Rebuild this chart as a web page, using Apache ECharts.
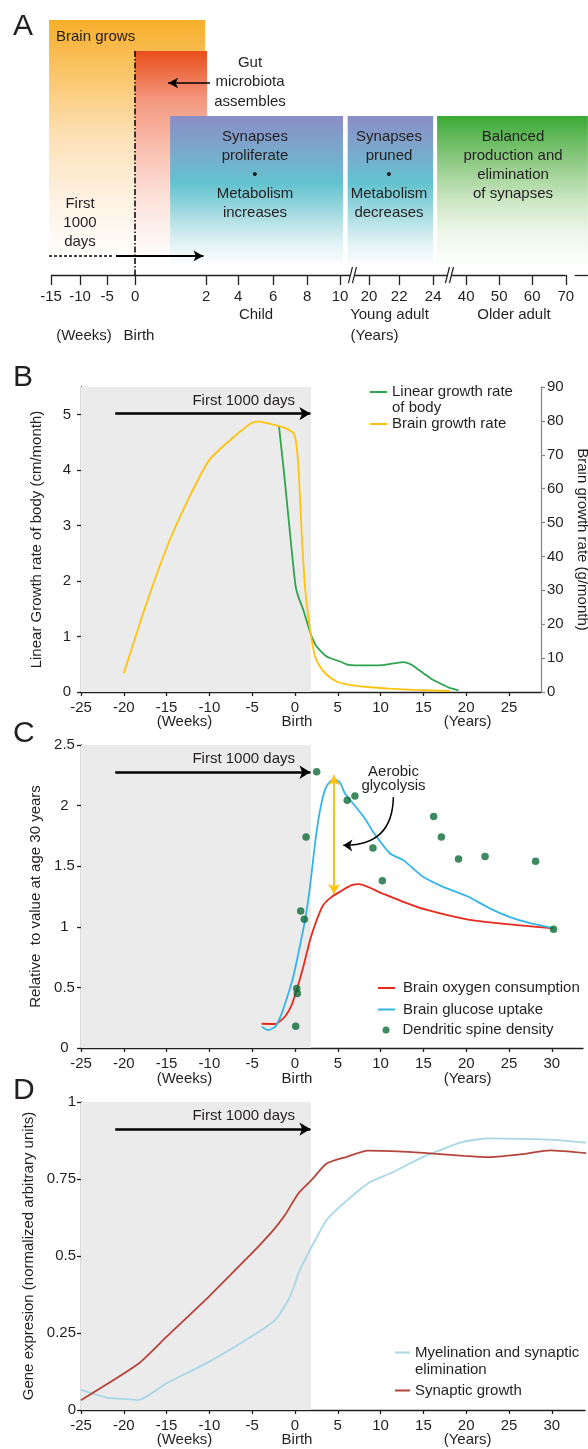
<!DOCTYPE html>
<html><head><meta charset="utf-8">
<script src="https://cdn.jsdelivr.net/npm/echarts@6/dist/echarts.min.js"></script>
<style>html,body{margin:0;padding:0;background:#fff}#c{width:588px;height:1449px}</style>
</head><body><div id="c"></div>
<script>
// ---------------- DATA ----------------
// Panel A (schematic timeline, axis in "slot" units)
const aTickLabels = ['-15','-10','-5','0','2','4','6','8','10','20','22','24','40','50','60','70'];
const aTickPos = [0,0.88,1.7,2.55,4.7,5.67,6.73,7.76,8.76,9.64,10.55,11.58,12.58,13.58,14.58,15.6];
const aAxisSegments = [[0,15.6],[15.87,16.27]];
const aBreakPos = [9.15,12.09];
const aBoxStart = [-0.06,2.55,3.61,8.99,11.7];
const aBoxEnd = [4.67,4.73,8.85,11.58,16.27];
const aBoxTop = [1.0,0.878,0.624,0.624,0.624];
const aBoxBottom = [0.06,0.06,0.035,0.035,0.035];
const aBirthLine = [[2.55,0.878],[2.55,0]];
const aGutArrow = [[4.82,0.753],[3.55,0.753]];
const aFirstDashed = [[-0.06,0.075],[1.85,0.075]];
const aFirstArrow = [[1.97,0.075],[4.62,0.075]];

// Shared
const ticks25 = [-25,-20,-15,-10,-5,0,5,10,15,20,25];
const ticks30 = [-25,-20,-15,-10,-5,0,5,10,15,20,25,30];
const grayEnd = 1.87;
const first1000Span = [-21,1.8];

// Panel B
const bodyGrowth = [[-1.87,4.79],[-1.36,4.07],[-0.97,3.47],[-0.58,2.86],[-0.19,2.26],[0.08,1.9],[0.39,1.72],[0.97,1.48],[1.56,1.18],[1.95,1.0],[2.53,0.82],[3.7,0.64],[5.26,0.55],[6.23,0.49],[8.76,0.48],[10.5,0.49],[12.6,0.54],[13.5,0.5],[15,0.34],[16,0.23],[16.9,0.16],[18,0.08],[19.1,0.03]];
const brainGrowth = [[-20,5.5],[-17.5,25],[-15,42.5],[-12.5,56.7],[-10,68.5],[-7.5,74.5],[-5,79.5],[-4.1,79.8],[-3,79.2],[-1.75,78.4],[-0.8,77.5],[-0.2,76.4],[0.1,74],[0.4,66.6],[0.78,47],[1.17,31],[1.56,22.2],[1.95,15.4],[2.34,10.5],[2.92,7.5],[3.7,5.1],[4.87,3.1],[6.4,2.1],[8.76,1.4],[11.1,1.0],[14,0.6],[18.1,0.3]];
const bArrowY = 5.02;

// Panel C
const oxygen = [[-3.9,0.2],[-2.3,0.198],[-1.17,0.26],[-0.39,0.355],[0.2,0.48],[0.97,0.67],[1.75,0.89],[2.53,1.055],[3.3,1.18],[4.28,1.247],[5.26,1.29],[6.6,1.344],[7.5,1.352],[10.2,1.275],[12.65,1.206],[15.2,1.143],[20.2,1.06],[25.1,1.02],[30.2,0.987]];
const glucose = [[-3.9,0.176],[-3.1,0.148],[-2.3,0.176],[-1.55,0.286],[-0.78,0.45],[-0.2,0.59],[0.39,0.78],[1.17,1.055],[1.75,1.33],[2.34,1.69],[2.92,1.96],[3.5,2.13],[4.1,2.2],[4.67,2.215],[5.26,2.19],[5.84,2.1],[7.1,1.99],[8.2,1.89],[9.15,1.78],[11.1,1.605],[12.65,1.55],[15,1.41],[17.3,1.33],[20.2,1.25],[22.8,1.15],[25.1,1.08],[27.45,1.03],[30.2,0.99]];
const spines = [[2.53,2.28],[6.1,2.045],[7.0,2.08],[1.29,1.74],[9.1,1.65],[10.2,1.38],[16.2,1.91],[17.1,1.74],[19.1,1.56],[22.2,1.58],[28.1,1.54],[30.2,0.98],[0.66,1.13],[1.09,1.063],[0.2,0.49],[0.27,0.45],[0.08,0.18]];
const cArrowY = 2.275;
const glycolysisGap = [[4.55,2.25],[4.55,1.27]];
const aerobicArrow = [[11.49,2.07],[5.64,1.673]];

// Panel D
const myelination = [[-25,0.065],[-22,0.04],[-20,0.036],[-18.3,0.032],[-15,0.087],[-10,0.157],[-5,0.24],[-2.34,0.292],[-0.78,0.357],[0,0.41],[0.39,0.444],[1.95,0.53],[3.7,0.617],[5.65,0.67],[8.76,0.74],[11.1,0.768],[15,0.822],[19.7,0.871],[22.8,0.882],[30.2,0.877],[34,0.868]];
const synapticGrowth = [[-25,0.032],[-18.3,0.15],[-15,0.238],[-10,0.37],[-5,0.51],[-4.1,0.536],[-2.53,0.584],[-1.17,0.633],[0.39,0.703],[1.95,0.747],[3.7,0.8],[6.04,0.822],[8.5,0.842],[12,0.84],[15,0.835],[19.7,0.825],[22.8,0.821],[26.7,0.831],[29.8,0.843],[34,0.834]];
const dArrowY = 0.912;

// ---------------- STYLE ----------------
const FONT = "'Liberation Sans', Arial, Helvetica, sans-serif";
const INK = '#231f20';
const FS = 15;
const boxGradients = [
  [{offset:0,color:'#F7AE2A'},{offset:0.25,color:'#FAC872'},{offset:0.5,color:'#FDE2BA'},{offset:0.75,color:'#FEF2E2'},{offset:1,color:'#FFFFFF'}],
  [{offset:0,color:'#E84E1B'},{offset:0.23,color:'#F4977E'},{offset:0.47,color:'#F9C0B0'},{offset:0.71,color:'#FCE2DA'},{offset:1,color:'#FFFFFF'}],
  [{offset:0,color:'#8A8EC6'},{offset:0.23,color:'#7BA8CC'},{offset:0.45,color:'#63C3CF'},{offset:0.66,color:'#A8DCE2'},{offset:0.83,color:'#DDF1F4'},{offset:1,color:'#FFFFFF'}],
  [{offset:0,color:'#8A8EC6'},{offset:0.23,color:'#7BA8CC'},{offset:0.45,color:'#63C3CF'},{offset:0.66,color:'#A8DCE2'},{offset:0.83,color:'#DDF1F4'},{offset:1,color:'#FFFFFF'}],
  [{offset:0,color:'#3AAA35'},{offset:0.23,color:'#7CC272'},{offset:0.4,color:'#A6D59C'},{offset:0.56,color:'#CBE6C3'},{offset:0.76,color:'#EAF5E7'},{offset:1,color:'#FFFFFF'}]
];
const txt = {fontFamily:FONT, fontSize:FS, color:INK};
const SMOOTH = 0.2;

function xAxisFor(grid, max, ticks){
  return {type:'value', gridIndex:grid, min:-25, max:max, interval:5,
    axisLine:{show:true, onZero:false, lineStyle:{color:INK, width:1.3}},
    axisTick:{show:true, length:4, customValues:ticks, lineStyle:{color:INK, width:1.3}},
    axisLabel:Object.assign({customValues:ticks, margin:8.5}, txt),
    splitLine:{show:false}};
}
function dummy(xi, yi, extra){
  return Object.assign({type:'line', xAxisIndex:xi, yAxisIndex:yi, data:[[-25,0]], symbol:'none',
    lineStyle:{opacity:0}, silent:true, z:1, clip:false, animation:false}, extra);
}
function seg(p0, p1, style, s0, s1){
  return [{coord:p0, symbol:s0||'none', lineStyle:style}, {coord:p1, symbol:s1||'none'}];
}
function T(x, y, text, extra){
  return {type:'text', x:x, y:y, silent:true, z:100,
    style:Object.assign({text:text, fontFamily:FONT, fontSize:FS, fill:INK, align:'center', verticalAlign:'middle'}, extra||{})};
}
function lineLegend(left, top, names, opts){
  return Object.assign({orient:'vertical', left:left, top:top, padding:0, itemWidth:17, itemHeight:2,
    icon:'rect', selectedMode:false, textStyle:Object.assign({lineHeight:16}, txt), data:names}, opts||{});
}

const chart = echarts.init(document.getElementById('c'), null, {width:588, height:1449});

const option = {
  animation:false,
  backgroundColor:'#fff',
  grid:[
    {left:47.7, top:20, width:540.2, height:255, outerBoundsMode:'none'},
    {left:81, top:387, width:460, height:305, outerBoundsMode:'none'},
    {left:81, top:745, width:502, height:303, outerBoundsMode:'none'},
    {left:81, top:1102, width:504, height:308, outerBoundsMode:'none'}
  ],
  xAxis:[
    {type:'value', gridIndex:0, min:-0.1, max:16.27,
      axisLine:{show:false},
      axisTick:{show:true, length:10, customValues:aTickPos, lineStyle:{color:INK, width:1.3}},
      axisLabel:Object.assign({customValues:aTickPos, margin:14,
        formatter:function(v){ let k=0,b=1e9; aTickPos.forEach((p,i)=>{const d=Math.abs(p-v); if(d<b){b=d;k=i;}}); return aTickLabels[k]; }}, txt),
      splitLine:{show:false}},
    xAxisFor(1, 28.74, ticks25),
    xAxisFor(2, 33.64, ticks30),
    xAxisFor(3, 33.88, ticks30)
  ],
  yAxis:[
    {type:'value', gridIndex:0, min:0, max:1, show:false},
    {type:'value', gridIndex:1, min:0, max:5.5,
      name:'Linear Growth rate of body (cm/month)', nameLocation:'middle', nameRotate:90, nameGap:37, nameTextStyle:txt,
      axisLine:{show:true, onZero:false, lineStyle:{color:INK, width:1.3}},
      axisTick:{show:true, length:4, customValues:[0,1,2,3,4,5], lineStyle:{color:INK, width:1.3}},
      axisLabel:Object.assign({customValues:[0,1,2,3,4,5], margin:10}, txt),
      splitLine:{show:false}},
    {type:'value', gridIndex:1, min:0, max:90, interval:10, position:'right',
      name:'Brain growth rate (g/month)', nameLocation:'middle', nameRotate:-90, nameGap:32, nameTextStyle:txt,
      axisLine:{show:true, onZero:false, lineStyle:{color:'#8a8a8a', width:1.3}},
      axisTick:{show:true, length:4, lineStyle:{color:'#8a8a8a', width:1.3}},
      axisLabel:Object.assign({margin:6}, txt),
      splitLine:{show:false}},
    {type:'value', gridIndex:2, min:0, max:2.5, interval:0.5,
      name:'Relative  to value at age 30 years', nameLocation:'middle', nameRotate:90, nameGap:38, nameTextStyle:txt,
      axisLine:{show:true, onZero:false, lineStyle:{color:INK, width:1.3}},
      axisTick:{show:true, length:4, lineStyle:{color:INK, width:1.3}},
      axisLabel:Object.assign({margin:16.5, align:'center'}, txt),
      splitLine:{show:false}},
    {type:'value', gridIndex:3, min:0, max:1, interval:0.25,
      name:'Gene expresion (normalized arbitrary units)', nameLocation:'middle', nameRotate:90, nameGap:38, nameTextStyle:txt,
      axisLine:{show:true, onZero:false, lineStyle:{color:INK, width:1.3}},
      axisTick:{show:true, length:4, lineStyle:{color:INK, width:1.3}},
      axisLabel:Object.assign({margin:5}, txt),
      splitLine:{show:false}}
  ],
  legend:[
    lineLegend(370, 368, ['Linear growth rate\nof body'], {formatter:function(n){return '\n'+n;}}),
    lineLegend(370, 416, ['Brain growth rate']),
    lineLegend(378, 980, ['Brain oxygen consumption','Brain glucose uptake'], {itemGap:5.5,
      textStyle:Object.assign({lineHeight:16, padding:[0,0,0,3]}, txt)}),
    {orient:'vertical', left:382.5, top:1022, padding:0, itemWidth:17, itemHeight:7, icon:'circle', selectedMode:false,
      textStyle:Object.assign({lineHeight:16, padding:[0,0,0,3]}, txt), data:['Dendritic spine density']},
    lineLegend(395, 1327, ['Myelination and synaptic\nelimination'], {itemWidth:15,
      textStyle:Object.assign({lineHeight:17}, txt), formatter:function(n){return '\n'+n;}}),
    lineLegend(395, 1382.5, ['Synaptic growth'], {itemWidth:15})
  ],
  series:[
    // ---- Panel A boxes
    {type:'custom', xAxisIndex:0, yAxisIndex:0, silent:true, z:1,
      data:aBoxStart.map((s,i)=>[s, aBoxEnd[i], aBoxTop[i], aBoxBottom[i], i]),
      encode:{x:[0,1], y:[2,3]},
      renderItem:function(params, api){
        const p0 = api.coord([api.value(0), api.value(2)]);
        const p1 = api.coord([api.value(1), api.value(3)]);
        return {type:'rect', shape:{x:p0[0], y:p0[1], width:p1[0]-p0[0], height:p1[1]-p0[1]},
          style:{fill:new echarts.graphic.LinearGradient(0,0,0,1, boxGradients[api.value(4)])}};
      }},
    // ---- Panel A lines & arrows
    dummy(0, 0, {z:4, markLine:{silent:true, animation:false, symbolSize:[8,10], label:{show:false},
      lineStyle:{color:'#000', width:1.3, type:'solid'},
      data:[
        seg([aAxisSegments[0][0],0],[aAxisSegments[0][1],0],{color:INK,width:1.3,type:'solid'}),
        seg([aAxisSegments[1][0],0],[aAxisSegments[1][1],0],{color:INK,width:1.3,type:'solid'}),
        seg(aBirthLine[0], aBirthLine[1], {color:'#000',width:1.5,type:[6,2,1.5,2]}),
        seg(aGutArrow[0], aGutArrow[1], {color:'#000',width:1.6,type:'solid'}, 'none','arrow'),
        seg(aFirstDashed[0], aFirstDashed[1], {color:'#000',width:1.5,type:[3,2]}),
        seg(aFirstArrow[0], aFirstArrow[1], {color:'#000',width:1.8,type:'solid'}, 'none','arrow')
      ]}}),
    // ---- Panel A axis breaks
    {type:'custom', xAxisIndex:0, yAxisIndex:0, silent:true, z:5, clip:false,
      data:aBreakPos.map(p=>[p,0]),
      renderItem:function(params, api){
        const p = api.coord([api.value(0), api.value(1)]);
        const x=p[0], y=p[1];
        return {type:'group', children:[
          {type:'polygon', shape:{points:[[x-4,y+8],[x,y-8],[x+3.5,y-8],[x-0.5,y+8]]}, style:{fill:'#fff'}},
          {type:'line', shape:{x1:x-4.5,y1:y+8,x2:x-0.5,y2:y-8}, style:{stroke:INK,lineWidth:1.2}},
          {type:'line', shape:{x1:x-0.5,y1:y+8,x2:x+3.5,y2:y-8}, style:{stroke:INK,lineWidth:1.2}}
        ]};
      }},
    // ---- Panel B
    dummy(1, 1, {markArea:{silent:true, itemStyle:{color:'#EBEBEB'}, data:[[{xAxis:-25},{xAxis:grayEnd}]]},
      markLine:{silent:true, animation:false, symbol:['none','arrow'], symbolSize:[10,11], label:{show:false},
        lineStyle:{color:'#000', width:2.5, type:'solid'},
        data:[[{coord:[first1000Span[0],bArrowY]},{coord:[first1000Span[1],bArrowY]}]]}}),
    {name:'Linear growth rate\nof body', type:'line', xAxisIndex:1, yAxisIndex:1, data:bodyGrowth, symbol:'none',
      smooth:SMOOTH, z:3, lineStyle:{color:'#2DA44E', width:1.8}, itemStyle:{color:'#2DA44E'}},
    {name:'Brain growth rate', type:'line', xAxisIndex:1, yAxisIndex:2, data:brainGrowth, symbol:'none',
      smooth:SMOOTH, z:3, lineStyle:{color:'#FFC20E', width:1.8}, itemStyle:{color:'#FFC20E'}},
    // ---- Panel C
    dummy(2, 3, {markArea:{silent:true, itemStyle:{color:'#EBEBEB'}, data:[[{xAxis:-25},{xAxis:grayEnd}]]},
      markLine:{silent:true, animation:false, symbol:['none','arrow'], symbolSize:[10,11], label:{show:false},
        lineStyle:{color:'#000', width:2.5, type:'solid'},
        data:[[{coord:[first1000Span[0],cArrowY]},{coord:[first1000Span[1],cArrowY]}]]}}),
    {name:'Brain oxygen consumption', type:'line', xAxisIndex:2, yAxisIndex:3, data:oxygen, symbol:'none',
      smooth:SMOOTH, z:3, lineStyle:{color:'#E8291C', width:1.8}, itemStyle:{color:'#E8291C'}},
    {name:'Brain glucose uptake', type:'line', xAxisIndex:2, yAxisIndex:3, data:glucose, symbol:'none',
      smooth:SMOOTH, z:3, lineStyle:{color:'#35B4E8', width:1.8}, itemStyle:{color:'#35B4E8'}},
    {name:'Dendritic spine density', type:'scatter', xAxisIndex:2, yAxisIndex:3, data:spines, symbol:'circle',
      symbolSize:7.5, z:4, itemStyle:{color:'#0E6B37'}},
    dummy(2, 3, {z:5, markLine:{silent:true, animation:false, symbol:['arrow','arrow'], symbolSize:[9,10], label:{show:false},
      lineStyle:{color:'#FFC20E', width:2, type:'solid'}, itemStyle:{color:'#FFC20E'},
      data:[[{coord:glycolysisGap[0]},{coord:glycolysisGap[1]}]]}}),
    {type:'lines', coordinateSystem:'cartesian2d', xAxisIndex:2, yAxisIndex:3, silent:true, z:5,
      symbol:['none','arrow'], symbolSize:9,
      lineStyle:{color:'#000', width:1.5, curveness:0.5, opacity:1},
      data:[{coords:aerobicArrow}]},
    // ---- Panel D
    dummy(3, 4, {markArea:{silent:true, itemStyle:{color:'#EBEBEB'}, data:[[{xAxis:-25},{xAxis:grayEnd}]]},
      markLine:{silent:true, animation:false, symbol:['none','arrow'], symbolSize:[10,11], label:{show:false},
        lineStyle:{color:'#000', width:2.5, type:'solid'},
        data:[[{coord:[first1000Span[0],dArrowY]},{coord:[first1000Span[1],dArrowY]}]]}}),
    {name:'Myelination and synaptic\nelimination', type:'line', xAxisIndex:3, yAxisIndex:4, data:myelination, symbol:'none',
      smooth:SMOOTH, z:3, lineStyle:{color:'#A8D7E6', width:1.8}, itemStyle:{color:'#A8D7E6'}},
    {name:'Synaptic growth', type:'line', xAxisIndex:3, yAxisIndex:4, data:synapticGrowth, symbol:'none',
      smooth:SMOOTH, z:3, lineStyle:{color:'#B5453A', width:1.8}, itemStyle:{color:'#B5453A'}}
  ],
  graphic:{elements:[
    // panel letters
    T(13, 27, 'A', {fontSize:30, align:'left'}),
    T(13, 378, 'B', {fontSize:30, align:'left'}),
    T(13, 734, 'C', {fontSize:30, align:'left'}),
    T(13, 1091, 'D', {fontSize:30, align:'left'}),
    // panel A texts
    T(56, 37, 'Brain grows', {align:'left'}),
    T(250, 82, 'Gut\nmicrobiota\nassembles', {lineHeight:19.5}),
    T(255, 175, 'Synapses\nproliferate\n•\nMetabolism\nincreases', {lineHeight:19}),
    T(389, 175, 'Synapses\npruned\n•\nMetabolism\ndecreases', {lineHeight:19}),
    T(513, 165.5, 'Balanced\nproduction and\nelimination\nof synapses', {lineHeight:19}),
    T(80, 223, 'First\n1000\ndays', {lineHeight:19}),
    T(256, 315, 'Child'),
    T(389.5, 315, 'Young adult'),
    T(514, 315, 'Older adult'),
    T(84, 336, '(Weeks)'),
    T(139, 336, 'Birth'),
    T(374.5, 336, '(Years)'),
    // panel B
    T(295, 401, 'First 1000 days', {align:'right'}),
    T(184.5, 722, '(Weeks)'), T(297, 722, 'Birth'), T(467.6, 722, '(Years)'),
    // panel C
    T(295, 759, 'First 1000 days', {align:'right'}),
    T(393.5, 778.5, 'Aerobic\nglycolysis', {lineHeight:14}),
    T(184.5, 1079, '(Weeks)'), T(297, 1079, 'Birth'), T(467.6, 1079, '(Years)'),
    // panel D
    T(295, 1116, 'First 1000 days', {align:'right'}),
    T(184.5, 1440, '(Weeks)'), T(297, 1440, 'Birth'), T(467.6, 1440, '(Years)')
  ]}
};
chart.setOption(option);
</script>
</body></html>
